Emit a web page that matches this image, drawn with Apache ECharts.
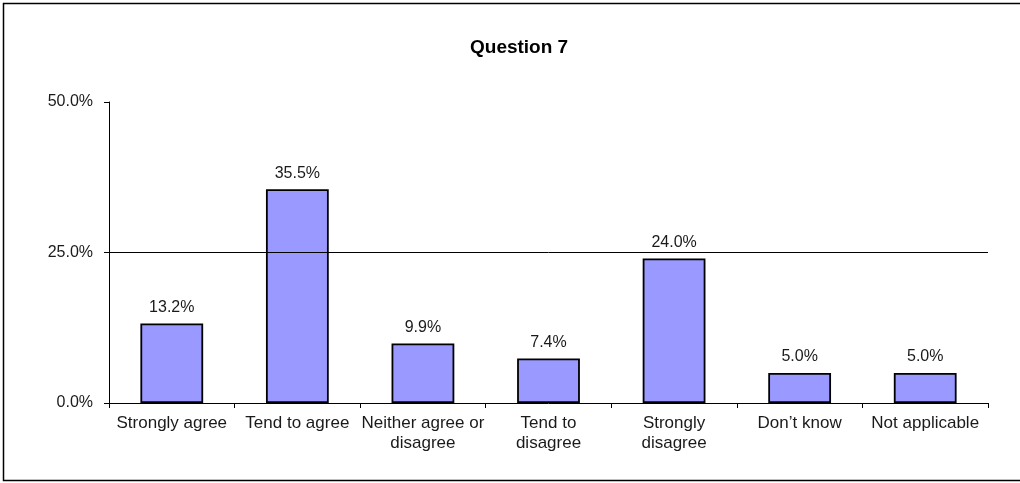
<!DOCTYPE html>
<html>
<head>
<meta charset="utf-8">
<title>Question 7</title>
<script src="https://cdn.jsdelivr.net/npm/echarts@6/dist/echarts.min.js"></script>
<style>
  html, body { margin: 0; padding: 0; background: #ffffff; }
  #chart { width: 1020px; height: 483px; }
</style>
</head>
<body>
<div id="chart"></div>
<script>
// Survey responses for Question 7 (percent of respondents)
const categories = [
  'Strongly agree',
  'Tend to agree',
  'Neither agree or\ndisagree',
  'Tend to\ndisagree',
  'Strongly\ndisagree',
  'Don\u2019t know',
  'Not applicable'
];
const shares = [13.2, 35.5, 9.9, 7.4, 24.0, 5.0, 5.0];
const yTicks = [0, 25, 50];

const FONT = '"Liberation Sans", Arial, sans-serif';
const TEXT = '#1a1a1a';

const chart = echarts.init(document.getElementById('chart'), null, { renderer: 'canvas' });

chart.setOption({
  backgroundColor: '#ffffff',
  animation: false,
  title: {
    text: 'Question 7',
    left: 465,
    top: 33,
    textStyle: { fontFamily: FONT, fontSize: 19, fontWeight: 'bold', color: '#000000' }
  },
  graphic: [{
    type: 'rect',
    shape: { x: 3.5, y: 3.5, width: 1030, height: 477 },
    style: { fill: 'none', stroke: '#000000', lineWidth: 1.5 },
    silent: true
  }],
  grid: { left: 109, right: 32, top: 102, bottom: 80 },
  xAxis: {
    type: 'category',
    data: categories,
    boundaryGap: true,
    axisLine: { lineStyle: { color: '#000000', width: 1 } },
    axisTick: { show: true, alignWithLabel: false, length: 5, lineStyle: { color: '#000000' } },
    axisLabel: {
      interval: 0,
      margin: 10,
      fontFamily: FONT,
      fontSize: 17,
      color: TEXT,
      lineHeight: 20
    }
  },
  yAxis: {
    type: 'value',
    min: yTicks[0],
    max: yTicks[yTicks.length - 1],
    interval: yTicks[1] - yTicks[0],
    axisLine: { show: true, lineStyle: { color: '#000000', width: 1 } },
    axisTick: { show: true, length: 5, lineStyle: { color: '#000000' } },
    splitLine: { show: false },
    axisLabel: {
      margin: 16,
      fontFamily: FONT,
      fontSize: 16,
      color: TEXT,
      formatter: v => v.toFixed(1) + '%'
    }
  },
  series: [{
    type: 'bar',
    data: shares,
    barWidth: '50%',
    itemStyle: { color: '#9999FF', borderColor: '#000000', borderWidth: 1.8 },
    label: {
      show: true,
      position: 'top',
      distance: 8,
      fontFamily: FONT,
      fontSize: 16,
      color: TEXT,
      formatter: p => p.value.toFixed(1) + '%'
    },
    markLine: {
      silent: true,
      symbol: ['none', 'none'],
      label: { show: false },
      lineStyle: { color: '#000000', width: 1, type: 'solid' },
      data: [{ yAxis: yTicks[1] }]
    }
  }]
});
</script>
</body>
</html>
